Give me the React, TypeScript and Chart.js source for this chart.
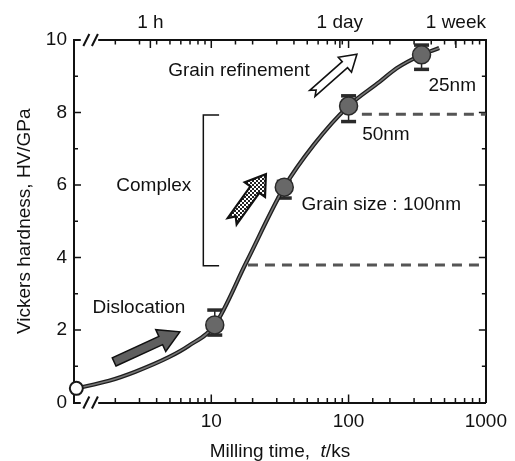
import { useEffect, useRef } from 'react';
import { Chart, registerables } from 'chart.js';

Chart.register(...registerables);

const FONT = '"Liberation Sans", Arial, Helvetica, sans-serif';

// Measured points (milling time in ks, Vickers hardness in GPa)
const millingTimeKs = [10.6, 34.0, 100, 340];
const hardnessHV = [2.14, 5.94, 8.18, 9.59];
const errHigh = [2.55, 6.1, 8.46, 9.86];
const errLow = [1.86, 5.64, 7.75, 9.19];

// As-received powder (t = 0, plotted at the axis break)
const startTimeKs = [1.04];
const startHV = [0.39];

// Guide curve
const curveTimeKs = [1.04, 1.8, 2.8, 4.9, 6.82, 10.6, 17.9, 34.0, 56.1, 100, 169, 224, 340, 457];
const curveHV = [0.39, 0.6, 0.85, 1.25, 1.56, 2.14, 3.85, 5.94, 7.12, 8.18, 8.85, 9.22, 9.59, 9.78];

// Grain-size boundaries (dashed)
const boundaryHV = [7.95, 3.79];
const boundaryStartKs = [125, 18.5];
const axisMaxKs = 1000;

// "Complex" bracket
const bracketKs = [11.4, 8.75, 8.75, 11.4];
const bracketHV = [7.93, 7.93, 3.77, 3.77];

// Arrows: Dislocation, Complex, Grain refinement
const arrowTailKs = [1.96, 14.2, 54.5];
const arrowTailHV = [1.12, 5.0, 8.53];
const arrowTipKs = [5.9, 25.0, 115];
const arrowTipHV = [1.95, 6.3, 9.61];

// Text annotations
const textLabels = ['Grain refinement', 'Complex', 'Dislocation', 'Grain size : 100nm', '50nm', '25nm'];
const textTimeKs = [15.9, 3.81, 2.97, 173, 187, 569];
const textHV = [9.14, 5.97, 2.62, 5.45, 7.38, 8.73];

// Axis ticks
const bottomTickLabels = [10, 100, 1000];
const topTickKs = [3.6, 86.4, 604.8];
const topTickLabels = ['1 h', '1 day', '1 week'];

// Axis break
const breakFromKs = 1.12;
const breakToKs = 1.5;
const breakSlashKs = [1.23, 1.42];

function pts(xs: number[], ys: number[]) {
  return xs.map((x, i) => ({ x, y: ys[i] }));
}

function drawArrow(
  ctx: CanvasRenderingContext2D,
  tx: number, ty: number, hx: number, hy: number,
  w: number, hw: number, hl: number, notch: number,
  fill: string | CanvasPattern, stroke: string, lw: number
) {
  const dx = hx - tx, dy = hy - ty;
  const len = Math.hypot(dx, dy);
  const ux = dx / len, uy = dy / len;
  const nx = -uy, ny = ux;
  const bx = hx - ux * hl, by = hy - uy * hl;
  ctx.beginPath();
  ctx.moveTo(tx + nx * w, ty + ny * w);
  ctx.lineTo(bx + nx * w, by + ny * w);
  ctx.lineTo(bx + nx * hw, by + ny * hw);
  ctx.lineTo(hx, hy);
  ctx.lineTo(bx - nx * hw, by - ny * hw);
  ctx.lineTo(bx - nx * w, by - ny * w);
  ctx.lineTo(tx - nx * w, ty - ny * w);
  if (notch > 0) ctx.lineTo(tx + ux * notch, ty + uy * notch);
  ctx.closePath();
  ctx.fillStyle = fill;
  ctx.fill();
  ctx.strokeStyle = stroke;
  ctx.lineWidth = lw;
  ctx.lineJoin = 'miter';
  ctx.stroke();
}

const decoPlugin = {
  id: 'deco',
  beforeDatasetsDraw(chart: any) {
    const ctx: CanvasRenderingContext2D = chart.ctx;
    const xs = chart.scales.x;
    const ys = chart.scales.y;
    const { left, right, top, bottom } = chart.chartArea;
    ctx.save();
    ctx.strokeStyle = '#111';
    ctx.lineWidth = 1.5;
    xs.ticks.forEach((t: any) => {
      if (t.value < 1.5 || t.value >= axisMaxKs) return;
      const px = xs.getPixelForValue(t.value);
      const lg = Math.log10(t.value);
      const major = Math.abs(lg - Math.round(lg)) < 1e-6;
      const L = major ? 8 : 4.5;
      ctx.beginPath();
      ctx.moveTo(px, bottom);
      ctx.lineTo(px, bottom - L);
      ctx.moveTo(px, top);
      ctx.lineTo(px, top + L);
      ctx.stroke();
    });
    topTickKs.forEach((v) => {
      const px = xs.getPixelForValue(v);
      ctx.beginPath();
      ctx.moveTo(px, top);
      ctx.lineTo(px, top + 8);
      ctx.stroke();
    });
    ys.ticks.forEach((t: any) => {
      if (t.value <= 0 || t.value >= 10) return;
      const py = ys.getPixelForValue(t.value);
      const L = t.value % 2 === 0 ? 7 : 4;
      ctx.beginPath();
      ctx.moveTo(left, py);
      ctx.lineTo(left + L, py);
      ctx.moveTo(right, py);
      ctx.lineTo(right - L, py);
      ctx.stroke();
    });
    ctx.strokeStyle = '#222';
    ctx.fillStyle = '#2a2a2a';
    millingTimeKs.forEach((t, i) => {
      const px = xs.getPixelForValue(t);
      const ph = ys.getPixelForValue(errHigh[i]);
      const pl = ys.getPixelForValue(errLow[i]);
      ctx.lineWidth = 1.5;
      ctx.beginPath();
      ctx.moveTo(px, ph);
      ctx.lineTo(px, pl);
      ctx.stroke();
      ctx.fillRect(px - 7.5, ph - 1.75, 15, 3.5);
      ctx.fillRect(px - 7.5, pl - 1.75, 15, 3.5);
    });
    ctx.restore();
  },
  afterDraw(chart: any) {
    const ctx: CanvasRenderingContext2D = chart.ctx;
    const xs = chart.scales.x;
    const ys = chart.scales.y;
    const { left, right, top, bottom } = chart.chartArea;
    ctx.save();
    const b0 = xs.getPixelForValue(breakFromKs);
    const b1 = xs.getPixelForValue(breakToKs);
    ctx.fillStyle = '#fff';
    ctx.fillRect(b0, top - 3, b1 - b0, 6);
    ctx.fillRect(b0, bottom - 3, b1 - b0, 6);
    ctx.strokeStyle = '#111';
    ctx.lineWidth = 2;
    [top, bottom].forEach((yy) => {
      breakSlashKs.forEach((v) => {
        const px = xs.getPixelForValue(v);
        ctx.beginPath();
        ctx.moveTo(px - 3, yy + 6);
        ctx.lineTo(px + 3, yy - 6);
        ctx.stroke();
      });
    });

    const pat = document.createElement('canvas');
    pat.width = 4;
    pat.height = 4;
    const pc = pat.getContext('2d')!;
    pc.fillStyle = '#fff';
    pc.fillRect(0, 0, 4, 4);
    pc.fillStyle = '#222';
    pc.fillRect(0, 0, 2, 2);
    pc.fillRect(2, 2, 2, 2);
    const pattern = ctx.createPattern(pat, 'repeat')!;
    const styles = [
      { w: 4.5, hw: 12, hl: 21, notch: 0, fill: '#5f5f5f' as string | CanvasPattern, lw: 1.5 },
      { w: 5.5, hw: 12.5, hl: 19, notch: 6, fill: pattern as string | CanvasPattern, lw: 2.2 },
      { w: 4, hw: 10, hl: 16, notch: 5, fill: '#fff' as string | CanvasPattern, lw: 1.6 },
    ];
    arrowTailKs.forEach((t, i) => {
      const s = styles[i];
      drawArrow(
        ctx,
        xs.getPixelForValue(t), ys.getPixelForValue(arrowTailHV[i]),
        xs.getPixelForValue(arrowTipKs[i]), ys.getPixelForValue(arrowTipHV[i]),
        s.w, s.hw, s.hl, s.notch, s.fill, '#111', s.lw
      );
    });

    ctx.fillStyle = '#111';
    ctx.font = `19px ${FONT}`;
    ctx.textAlign = 'center';
    ctx.textBaseline = 'middle';
    textLabels.forEach((s, i) => {
      ctx.fillText(s, xs.getPixelForValue(textTimeKs[i]), ys.getPixelForValue(textHV[i]));
    });

    const cx = (left + right) / 2;
    const cy = (top + bottom) / 2;
    ctx.save();
    ctx.translate(25, cy);
    ctx.rotate(-Math.PI / 2);
    ctx.fillText('Vickers hardness, HV/GPa', 0, 0);
    ctx.restore();

    const p1 = 'Milling time,  ';
    const p2 = 't';
    const p3 = '/ks';
    ctx.font = `19px ${FONT}`;
    const w1 = ctx.measureText(p1).width;
    const w3 = ctx.measureText(p3).width;
    ctx.font = `italic 19px ${FONT}`;
    const w2 = ctx.measureText(p2).width;
    let x0 = cx - (w1 + w2 + w3) / 2;
    const ty = 452;
    ctx.textAlign = 'left';
    ctx.font = `19px ${FONT}`;
    ctx.fillText(p1, x0, ty);
    x0 += w1;
    ctx.font = `italic 19px ${FONT}`;
    ctx.fillText(p2, x0, ty);
    x0 += w2;
    ctx.font = `19px ${FONT}`;
    ctx.fillText(p3, x0, ty);
    ctx.restore();
  },
};

export default function App() {
  const ref = useRef<HTMLCanvasElement | null>(null);
  useEffect(() => {
    if (!ref.current) return;
    const tickFont = { family: FONT, size: 19 };
    const chart = new Chart(ref.current, {
      type: 'scatter',
      data: {
        datasets: [
          {
            data: pts(startTimeKs, startHV),
            pointRadius: 6.5,
            pointBackgroundColor: '#fff',
            pointBorderColor: '#1a1a1a',
            pointBorderWidth: 2,
            showLine: false,
            clip: false as any,
          },
          {
            data: pts(millingTimeKs, hardnessHV),
            pointRadius: 9,
            pointBackgroundColor: '#686868',
            pointBorderColor: '#2a2a2a',
            pointBorderWidth: 1.5,
            showLine: false,
          },
          {
            data: pts(curveTimeKs, curveHV),
            showLine: true,
            pointRadius: 0,
            borderColor: '#777',
            borderWidth: 1.6,
            cubicInterpolationMode: 'monotone',
            clip: false as any,
          },
          {
            data: pts(curveTimeKs, curveHV),
            showLine: true,
            pointRadius: 0,
            borderColor: '#1e1e1e',
            borderWidth: 4.2,
            cubicInterpolationMode: 'monotone',
            clip: false as any,
          },
          ...boundaryHV.map((v, i) => ({
            data: [
              { x: boundaryStartKs[i], y: v },
              { x: axisMaxKs, y: v },
            ],
            showLine: true,
            pointRadius: 0,
            borderColor: '#555',
            borderWidth: 3,
            borderDash: [10, 7],
          })),
          {
            data: pts(bracketKs, bracketHV),
            showLine: true,
            pointRadius: 0,
            borderColor: '#111',
            borderWidth: 1.5,
            tension: 0,
          },
        ],
      },
      options: {
        animation: false,
        responsive: true,
        maintainAspectRatio: false,
        layout: { padding: 0 },
        plugins: { legend: { display: false }, tooltip: { enabled: false } },
        scales: {
          x: {
            type: 'logarithmic',
            position: 'bottom',
            min: 1,
            max: axisMaxKs,
            afterFit: (s: any) => { s.height = 58.5; },
            border: { display: true, color: '#111', width: 2 },
            grid: { display: false, drawTicks: false },
            ticks: {
              autoSkip: false,
              maxRotation: 0,
              padding: 8,
              color: '#111',
              font: tickFont,
              callback: (v: any) => (bottomTickLabels.includes(Number(v)) ? String(v) : ''),
            },
          },
          x2: {
            type: 'logarithmic',
            position: 'top',
            min: 1,
            max: axisMaxKs,
            afterFit: (s: any) => { s.height = 40; },
            afterBuildTicks: (s: any) => { s.ticks = topTickKs.map((v) => ({ value: v })); },
            border: { display: true, color: '#111', width: 2 },
            grid: { display: false, drawTicks: false },
            ticks: {
              autoSkip: false,
              maxRotation: 0,
              padding: 6,
              color: '#111',
              font: tickFont,
              callback: (_v: any, i: number) => topTickLabels[i],
            },
          },
          y: {
            type: 'linear',
            position: 'left',
            min: 0,
            max: 10,
            afterFit: (s: any) => { s.width = 74; },
            border: { display: true, color: '#111', width: 2 },
            grid: { display: false, drawTicks: false },
            ticks: {
              stepSize: 1,
              padding: 7,
              color: '#111',
              font: tickFont,
              callback: (v: any) => (Number(v) % 2 === 0 ? String(v) : ''),
            },
          },
          y2: {
            type: 'linear',
            position: 'right',
            min: 0,
            max: 10,
            afterFit: (s: any) => { s.width = 25; },
            border: { display: true, color: '#111', width: 2 },
            grid: { display: false, drawTicks: false },
            ticks: { display: false, stepSize: 1 },
          },
        },
      },
      plugins: [decoPlugin],
    });
    return () => chart.destroy();
  }, []);
  return (
    <div style={{ position: 'fixed', left: 0, top: 0, width: 515, height: 461, background: '#fff' }}>
      <canvas ref={ref} />
    </div>
  );
}
